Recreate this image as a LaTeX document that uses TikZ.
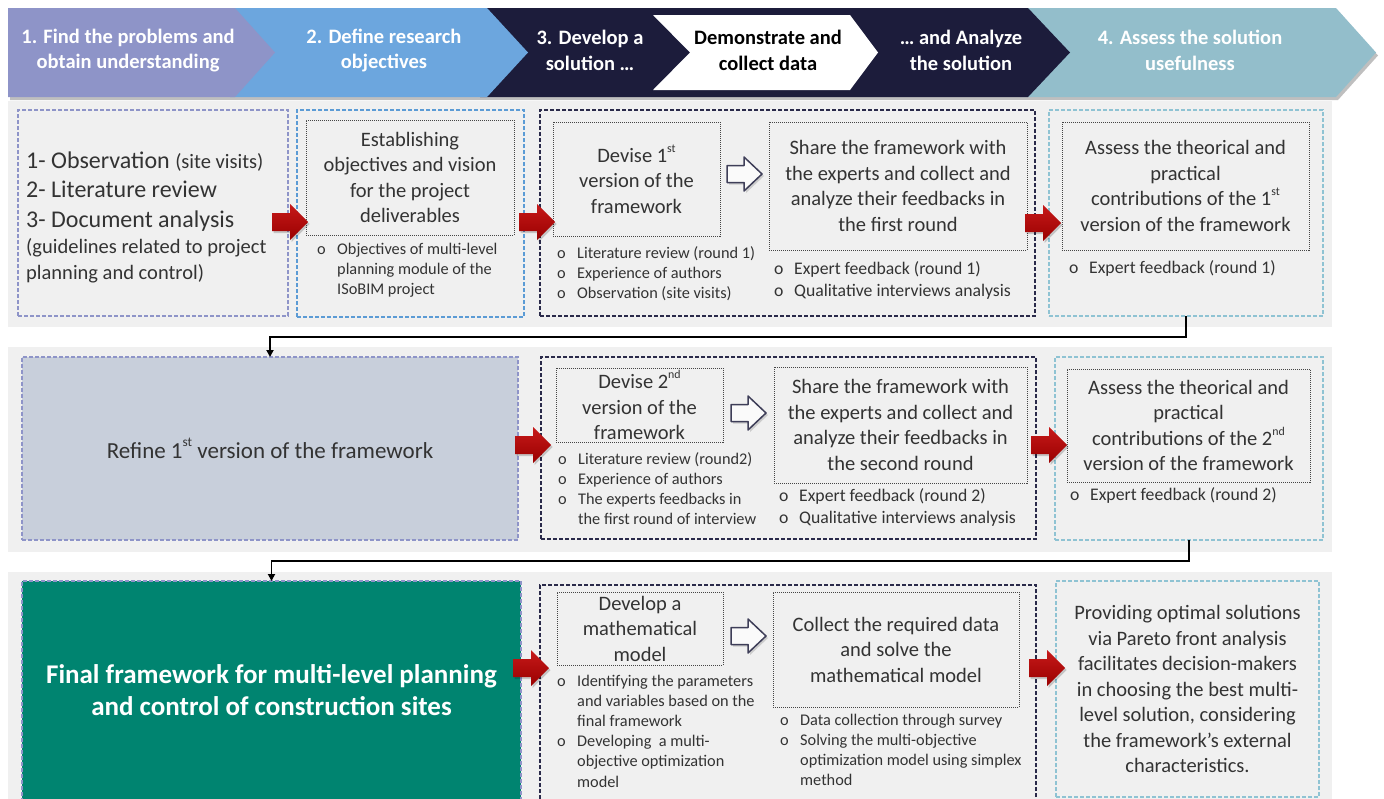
\documentclass[tikz,border=0pt]{standalone}
\usepackage{fontspec}
\usepackage{graphicx}
\setmainfont{Carlito}
\usetikzlibrary{arrows.meta}
\definecolor{cPurple}{HTML}{8E94C8}
\definecolor{cBlue}{HTML}{6CA6DE}
\definecolor{cNavy}{HTML}{1C1C3B}
\definecolor{cLBlue}{HTML}{93BECB}
\definecolor{cPanel}{HTML}{F0F0F0}
\definecolor{cRefine}{HTML}{C8CFDB}
\definecolor{cFinal}{HTML}{008470}
\definecolor{cTxt}{HTML}{333333}
\definecolor{cRed}{HTML}{C00000}
\definecolor{bA}{HTML}{8E94C8}
\definecolor{bB}{HTML}{5B9BD5}
\definecolor{bC}{HTML}{2A2A4A}
\definecolor{bD}{HTML}{8FC3D3}
\definecolor{cDot}{HTML}{454545}
\newcommand\bo[1]{\makebox[20pt][l]{o}#1}
\newcommand\bc[1]{\hspace*{20pt}#1}
\newcommand\supx[1]{\raisebox{0.5em}{\scalebox{0.58}{#1}}}
\begin{document}
\begin{tikzpicture}[x=1pt,y=-1pt,
  obox/.style={dash pattern=on 4pt off 2pt, line width=1.1pt, inner sep=0pt, outer sep=0pt, anchor=north west},
  ibox/.style={draw=cDot, dash pattern=on 1pt off 1pt, line width=1pt, inner sep=0pt, outer sep=0pt, anchor=north west,
     font=\fontsize{20.5}{25.5}\selectfont, text=cTxt, align=center},
  hdr/.style={font=\bfseries\fontsize{20.5}{25.5}\selectfont, text=white, align=center},
  bulS/.style={font=\fontsize{16.3}{20.2}\selectfont, text=cTxt, inner sep=0pt, anchor=base west},
  bulB/.style={font=\fontsize{17.7}{22}\selectfont, text=cTxt, inner sep=0pt, anchor=base west},
  conn/.style={line width=1.8pt, -{Triangle[width=7pt,length=7pt]}},
  redarr/.pic={
    \fill[black, opacity=.18] (-36,-9) ++(1.5,2) -- ++(18,0) -- ++(0,-9) -- ++(18,18) -- ++(-18,18) -- ++(0,-9) -- ++(-18,0) -- cycle;
    \shade[top color=cRed!90!white, bottom color=cRed!80!black] (-36,-9) -- (-18,-9) -- (-18,-18) -- (0,0) -- (-18,18) -- (-18,9) -- (-36,9) -- cycle;},
  hollowarr/.pic={
    \fill[black, opacity=.15] (-35,-8.5) ++(2,2) -- ++(17,0) -- ++(0,-8.5) -- ++(18,17) -- ++(-18,17) -- ++(0,-8.5) -- ++(-17,0) -- cycle;
    \draw[line width=1.5pt, draw=cNavy!85, fill=white!96!gray, line join=round] (-35,-8.5) -- (-18,-8.5) -- (-18,-17) -- (0,0) -- (-18,17) -- (-18,8.5) -- (-35,8.5) -- cycle;}
]
\useasboundingbox (0,0) rectangle (1384,798);
\clip (0,0) rectangle (1384,798);
\fill[white] (0,0) rectangle (1384,798);

% ---------- header ----------
\fill[black, opacity=.25] (10,11) -- (1338,11) -- (1378,55.5) -- (1338,100) -- (10,100) -- cycle;
\fill[cLBlue] (1020,8) -- (1336,8) -- (1376,52.5) -- (1336,97) -- (1020,97) -- cycle;
\fill[cNavy] (480,8) -- (1028,8) -- (1070,52.5) -- (1028,97) -- (480,97) -- cycle;
\fill[white] (653,15) -- (850,15) -- (878,52.5) -- (850,90) -- (653,90) -- (690,52.5) -- cycle;
\fill[cBlue] (230,8) -- (487,8) -- (528,52.5) -- (487,97) -- (230,97) -- cycle;
\fill[cPurple] (8,8) -- (235,8) -- (275,52.5) -- (235,97) -- (8,97) -- cycle;

\node[hdr] (h1) at (128,50.5) {1. Find the problems and\\obtain understanding};
\node[hdr] (h2) at (384,50.5) {2. Define research\\objectives};
\node[hdr] (h3) at (590,50.5) {3. Develop a\\solution …};
\node[hdr, text=black] (h4) at (768,50.5) {Demonstrate and\\collect data};
\node[hdr] (h5) at (961,50.5) {… and Analyze\\the solution};
\node[hdr] (h6) at (1190,50.5) {4. Assess the solution\\usefulness};

% ---------- panels ----------
\fill[cPanel] (8,101) rectangle (1332,327);
\fill[cPanel] (8,347) rectangle (1332,552);
\fill[cPanel] (8,572) rectangle (1332,800);

% ---------- row 1 ----------
\node[obox, draw=bA, minimum width=270pt, minimum height=206pt] (A) at (18,110) {};
\node[anchor=base west, inner sep=0pt, text=cTxt, font=\fontsize{24}{29.5}\selectfont] (Atext) at (26,168)
  {\begin{tabular}[t]{@{}l@{}}
   1- Observation {\fontsize{20.5}{26}\selectfont (site visits)}\\
   2- Literature review\\
   3- Document analysis\\[-3.5pt]
   {\fontsize{20.5}{26}\selectfont (guidelines related to project}\\[-3.5pt]
   {\fontsize{20.5}{26}\selectfont planning and control)}
   \end{tabular}};

\node[obox, draw=bB, minimum width=227pt, minimum height=207pt] (B) at (297,110) {};
\node[ibox, minimum width=208pt, minimum height=115pt] (B1) at (306,120)
  {Establishing\\objectives and vision\\for the project\\deliverables};
\node[bulS] (Bb) at (317,254) {\begin{tabular}[t]{@{}l@{}}
  \bo{Objectives of multi-level}\\ \bc{planning module of the}\\ \bc{ISoBIM project}\end{tabular}};

\node[obox, draw=bC, minimum width=495pt, minimum height=206pt] (C) at (540,110) {};
\node[ibox, minimum width=167pt, minimum height=114pt] (C1) at (553,122)
  {Devise 1\supx{st}\\version of the\\framework};
\node[bulS] (C1b) at (557,258) {\begin{tabular}[t]{@{}l@{}}
  \bo{Literature review (round 1)}\\ \bo{Experience of authors}\\ \bo{Observation (site visits)}\end{tabular}};
\node[ibox, minimum width=258pt, minimum height=128pt] (C2) at (769,122)
  {Share the framework with\\the experts and collect and\\analyze their feedbacks in\\the first round};
\node[bulB] (C2b) at (774,274) {\begin{tabular}[t]{@{}l@{}}
  \bo{Expert feedback (round 1)}\\ \bo{Qualitative interviews analysis}\end{tabular}};

\node[obox, draw=bD, minimum width=274pt, minimum height=206pt] (D) at (1049,110) {};
\node[ibox, minimum width=247pt, minimum height=128pt] (D1) at (1062,122)
  {Assess the theorical and\\practical\\contributions of the 1\supx{st}\\version of the framework};
\node[bulB] (Db) at (1069,273) {\begin{tabular}[t]{@{}l@{}}
  \bo{Expert feedback (round 1)}\end{tabular}};

\pic at (308,222) {redarr};
\pic at (555,222) {redarr};
\pic at (1061,223) {redarr};
\pic at (762,174) {hollowarr};

% ---------- row 2 ----------
\node[obox, draw=bA, fill=cRefine, minimum width=496pt, minimum height=183pt,
      font=\fontsize{23}{28}\selectfont, text=cTxt] (R) at (22,357)
  {Refine 1\supx{st} version of the framework};

\node[obox, draw=bC, minimum width=495pt, minimum height=182pt] (E) at (541,357) {};
\node[ibox, minimum width=167pt, minimum height=74pt] (E1) at (556,368)
  {Devise 2\supx{nd}\\version of the\\framework};
\node[bulS] (E1b) at (558,464) {\begin{tabular}[t]{@{}l@{}}
  \bo{Literature review (round2)}\\ \bo{Experience of authors}\\ \bo{The experts feedbacks in}\\ \bc{the first round of interview}\end{tabular}};
\node[ibox, minimum width=253pt, minimum height=116pt] (E2) at (774,367)
  {Share the framework with\\the experts and collect and\\analyze their feedbacks in\\the second round};
\node[bulB] (E2b) at (779,501) {\begin{tabular}[t]{@{}l@{}}
  \bo{Expert feedback (round 2)}\\ \bo{Qualitative interviews analysis}\end{tabular}};

\node[obox, draw=bD, minimum width=268pt, minimum height=183pt] (F) at (1055,357) {};
\node[ibox, minimum width=243pt, minimum height=113pt] (F1) at (1067,369)
  {Assess the theorical and\\practical\\contributions of the 2\supx{nd}\\version of the framework};
\node[bulB] (Fb) at (1070,500) {\begin{tabular}[t]{@{}l@{}}
  \bo{Expert feedback (round 2)}\end{tabular}};

\pic at (551,445) {redarr};
\pic at (1067,445) {redarr};
\pic at (766,413) {hollowarr};

% ---------- row 3 ----------
\node[obox, draw=bA, fill=cFinal, minimum width=499pt, minimum height=219pt,
      font=\bfseries\fontsize{27}{32}\selectfont, text=white, align=center] (Fin) at (22,581)
  {Final framework for multi-level planning\\and control of construction sites};

\node[obox, draw=bC, minimum width=496pt, minimum height=220pt] (G) at (540,585) {};
\node[ibox, minimum width=166pt, minimum height=73pt] (G1) at (557,592)
  {Develop a\\mathematical\\model};
\node[bulS] (G1b) at (557,686) {\begin{tabular}[t]{@{}l@{}}
  \bo{Identifying the parameters}\\ \bc{and variables based on the}\\ \bc{final framework}\\
  \bo{Developing\ \ a multi-}\\ \bc{objective optimization}\\ \bc{model}\end{tabular}};
\node[ibox, minimum width=246pt, minimum height=115pt] (G2) at (773,592)
  {Collect the required data\\and solve the\\mathematical model};
\node[bulS] (G2b) at (780,725) {\begin{tabular}[t]{@{}l@{}}
  \bo{Data collection through survey}\\ \bo{Solving the multi-objective}\\ \bc{optimization model using simplex}\\ \bc{method}\end{tabular}};

\node[obox, draw=bD, minimum width=263pt, minimum height=216pt,
      font=\fontsize{20.5}{25.5}\selectfont, text=cTxt, align=center] (H) at (1056,581)
  {Providing optimal solutions\\via Pareto front analysis\\facilitates decision-makers\\in choosing the best multi-\\level solution, considering\\the framework's external\\characteristics.};

\pic at (549,668) {redarr};
\pic at (1065,668) {redarr};
\pic at (766,636) {hollowarr};

% ---------- connectors ----------
\draw[conn] (D.south) -- ++(0,21) -| (R.north);
\draw[conn] (F.south) -- ++(0,21) -| (Fin.north);
\end{tikzpicture}
\end{document}
